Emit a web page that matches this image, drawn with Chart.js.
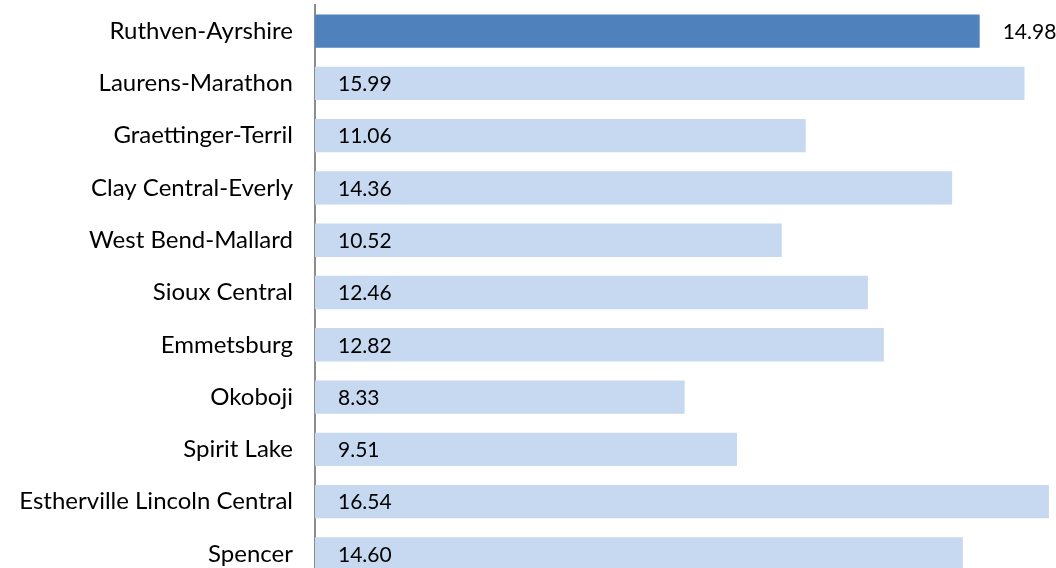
<!DOCTYPE html>
<html>
<head>
<meta charset="utf-8">
<script src="https://cdn.jsdelivr.net/npm/chart.js@4/dist/chart.umd.min.js"></script>
<style>
	html, body { margin: 0; padding: 0; background: #fff; overflow: hidden; }
	canvas { display: block; }
</style>
</head>
<body>
<canvas id="barChart" width="1056" height="580"></canvas>
<script>
const categories = [
	'Ruthven-Ayrshire',
	'Laurens-Marathon',
	'Graettinger-Terril',
	'Clay Central-Everly',
	'West Bend-Mallard',
	'Sioux Central',
	'Emmetsburg',
	'Okoboji',
	'Spirit Lake',
	'Estherville Lincoln Central',
	'Spencer',
];
const values = [14.98, 15.99, 11.06, 14.36, 10.52, 12.46, 12.82, 8.33, 9.51, 16.54, 14.60];
const highlighted = 'Ruthven-Ayrshire';

const darkBlue = '#4f81bd';
const lightBlue = '#c6d9f0';
const fontFamily = 'Lato, "Open Sans", sans-serif';

const barColors = categories.map((c) => (c === highlighted ? darkBlue : lightBlue));

// value labels: inside the bar on the left, or past the end for the highlighted one
const valueLabels = {
	id: 'valueLabels',
	afterDatasetsDraw(chart) {
		const ctx = chart.ctx;
		const meta = chart.getDatasetMeta(0);
		const left = chart.chartArea.left;
		ctx.save();
		ctx.font = `21px ${fontFamily}`;
		ctx.fillStyle = '#000';
		ctx.textBaseline = 'middle';
		ctx.textAlign = 'left';
		meta.data.forEach((bar, i) => {
			const text = values[i].toFixed(2);
			const x = categories[i] === highlighted ? bar.x + 23 : left + 23;
			ctx.fillText(text, x, bar.y + 1);
		});
		ctx.restore();
	},
};

new Chart(document.querySelector('#barChart'), {
	type: 'bar',
	data: {
		labels: categories,
		datasets: [{
			data: values,
			backgroundColor: barColors,
			borderWidth: 0,
			categoryPercentage: 1,
			barPercentage: 0.637,
		}],
	},
	options: {
		indexAxis: 'y',
		animation: false,
		responsive: false,
		layout: { padding: { top: 5, right: 0, bottom: 0, left: 0 } },
		plugins: {
			legend: { display: false },
			tooltip: { enabled: false },
		},
		scales: {
			x: {
				display: false,
				min: 0,
				max: 16.7,
			},
			y: {
				grid: { display: false, drawTicks: false },
				border: { display: true, color: '#8c8c8c', width: 2 },
				ticks: {
					color: '#000',
					padding: 22,
					font: { family: fontFamily, size: 24 },
				},
				afterFit(scale) {
					scale.width = 315;
					scale.paddingTop = 0;
					scale.paddingBottom = 0;
				},
			},
		},
	},
	plugins: [valueLabels],
});
</script>
</body>
</html>
